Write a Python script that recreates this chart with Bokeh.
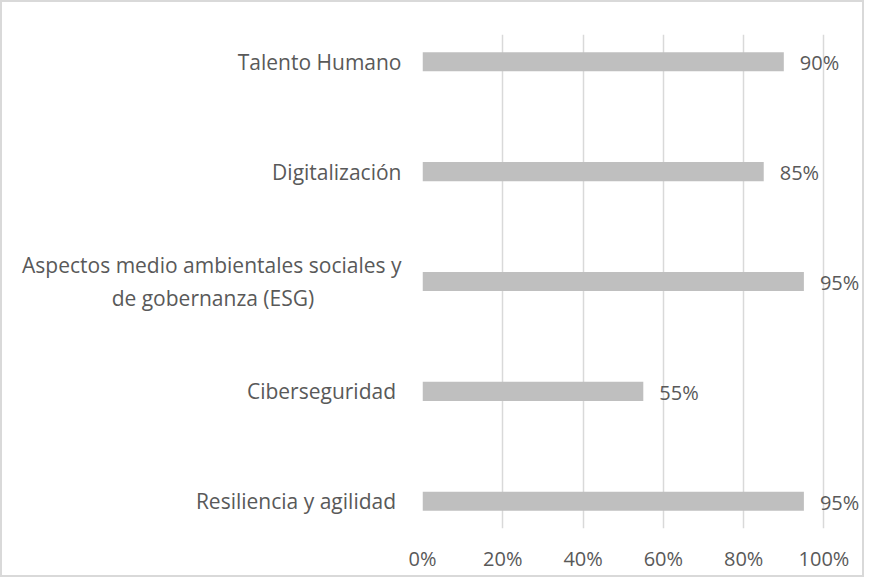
from bokeh.plotting import figure
from bokeh.models import Range1d, FixedTicker, ColumnDataSource, NumeralTickFormatter, LabelSet
from bokeh.embed import file_html
from bokeh.resources import INLINE
from bokeh.core.properties import value

# Data (bottom to top)
categories = [
    "Resiliencia  y agilidad",
    "Ciberseguridad ",
    "Aspectos medio ambientales sociales y\nde gobernanza (ESG)                ",
    "Digitalización",
    "Talento Humano",
]
values = [0.95, 0.55, 0.95, 0.85, 0.90]
x_ticks = [0, 0.2, 0.4, 0.6, 0.8, 1.0]

FONT = "Open Sans"
TXT = "#595959"

positions = list(range(len(categories)))
labels = [f"{round(v*100)}%" for v in values]
src = ColumnDataSource(dict(y=positions, v=values, lab=labels))

# frame spans 0..~1.096 so that the value labels beyond the bars are not clipped
p = figure(width=864, height=577, output_backend="svg", toolbar_location=None,
           x_range=Range1d(0, 1.096), y_range=Range1d(-0.248, 4.248),
           min_border_left=420, min_border_right=4, min_border_top=32, min_border_bottom=51)
p.outline_line_color = None
p.background_fill_color = "white"
p.border_fill_color = "white"
p.styles = {"border": "2px solid #d9d9d9", "box-sizing": "border-box"}

p.hbar(y="y", right="v", left=0, height=0.174, source=src,
       fill_color="#bfbfbf", line_color=None)
p.add_layout(LabelSet(x="v", y="y", text="lab", source=src, x_offset=16, y_offset=-1,
                      text_align="left", text_baseline="middle",
                      text_font=value(FONT), text_font_size=value("20px"), text_color=TXT))

# x axis
p.xaxis.ticker = FixedTicker(ticks=x_ticks)
p.xaxis.formatter = NumeralTickFormatter(format="0%")
p.xaxis.axis_line_color = None
p.xaxis.major_tick_line_color = None
p.xaxis.minor_tick_line_color = None
p.xaxis.major_label_standoff = 10
p.xaxis.major_label_text_font = FONT
p.xaxis.major_label_text_font_size = "20px"
p.xaxis.major_label_text_color = TXT

# y axis
p.yaxis.ticker = FixedTicker(ticks=positions)
p.yaxis.major_label_overrides = {i: c for i, c in zip(positions, categories)}
p.yaxis.axis_line_color = None
p.yaxis.major_tick_line_color = None
p.yaxis.minor_tick_line_color = None
p.yaxis.major_label_standoff = 15
p.yaxis.major_label_text_font = FONT
p.yaxis.major_label_text_font_size = "21px"
p.yaxis.major_label_text_color = TXT

p.xgrid.grid_line_color = "#d9d9d9"
p.xgrid.grid_line_width = 1.5
p.ygrid.grid_line_color = None

open("out.html", "w").write(file_html(p, INLINE))
